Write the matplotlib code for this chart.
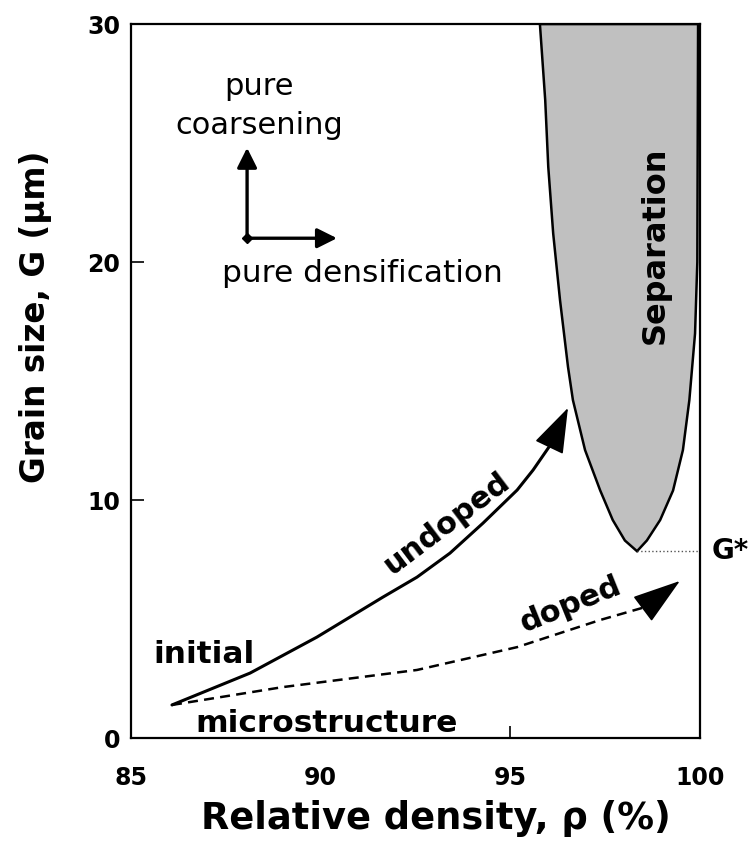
import matplotlib
matplotlib.use('Agg')
import matplotlib.pyplot as plt
from matplotlib.patches import FancyArrowPatch

# ----- data -----
# last pair of each path = base and tip of the arrowhead
undoped_rho = [86.08, 88.14, 89.9, 91.64, 92.54, 93.41, 94.28, 95.18, 95.6, 96.05, 96.52]
undoped_G = [1.39, 2.73, 4.24, 5.92, 6.76, 7.77, 9.03, 10.42, 11.26, 12.3, 13.87]

doped_rho = [86.08, 89.0, 92.54, 95.18, 97.37, 98.55, 99.47]
doped_G = [1.39, 2.14, 2.86, 3.82, 4.96, 5.5, 6.6]

# separation region outline: left branch top->bottom, right branch bottom->top
sep_rho = [95.78, 95.92, 96.0, 96.13, 96.31, 96.52, 96.65, 96.97, 97.37, 97.7, 98.02, 98.34,
           98.6, 98.95, 99.29, 99.55, 99.72, 99.87, 99.93, 99.95]
sep_G = [30, 26.8, 24.0, 21.2, 18.4, 15.6, 14.2, 12.1, 10.4, 9.16, 8.3, 7.85,
         8.3, 9.16, 10.4, 12.1, 14.2, 17.0, 20.0, 30]

g_star = 7.85
x_ticks = [85, 90, 95, 100]
y_ticks = [0, 10, 20, 30]

fig = plt.figure(figsize=(7.56, 8.55), dpi=100)
ax = fig.add_axes([0.1733, 0.1368, 0.7526, 0.8351])
ax.set_xlim(85, 100)
ax.set_ylim(0, 30)

# separation region
ax.fill(sep_rho, sep_G, facecolor='#c0c0c0', edgecolor='black', lw=1.8, zorder=2)
ax.text(98.82, 20.7, 'Separation', rotation=90, ha='center', va='center',
        fontsize=23, fontweight='bold', zorder=3)

# G* level
ax.plot([sep_rho[11], 100], [g_star, g_star], ls=':', color='#555555', lw=1.0, zorder=2)
ax.text(100.3, g_star, 'G*', ha='left', va='center', fontsize=20, fontweight='bold',
        clip_on=False)


def head(ax, rho, G, length):
    # solid arrowhead spanning the last segment of a path
    ax.add_patch(FancyArrowPatch((rho[-2], G[-2]), (rho[-1], G[-1]),
                                 arrowstyle=f'-|>,head_length={length},head_width=0.5',
                                 mutation_scale=20, lw=1.2, color='black', zorder=4,
                                 shrinkA=0, shrinkB=0))


# undoped path (solid)
ax.plot(undoped_rho[:-1], undoped_G[:-1], color='black', lw=2.2, zorder=4,
        solid_capstyle='round')
head(ax, undoped_rho, undoped_G, 1.45)

# doped path (dashed)
ax.plot(doped_rho[:-1], doped_G[:-1], color='black', lw=1.8, ls=(0, (4, 2.5)), zorder=4)
head(ax, doped_rho, doped_G, 1.55)

# path labels
ax.text(93.33, 9.03, 'undoped', rotation=37, ha='center', va='center',
        fontsize=22, fontweight='bold')
ax.text(96.6, 5.6, 'doped', rotation=22, ha='center', va='center',
        fontsize=22, fontweight='bold')
ax.text(85.58, 3.15, 'initial', ha='left', va='baseline', fontsize=22.5, fontweight='bold')
ax.text(86.69, 0.25, 'microstructure', ha='left', va='baseline', fontsize=22.5,
        fontweight='bold')

# schematic: pure coarsening / pure densification
corner = (88.06, 21.0)
arrow_kw = dict(arrowstyle='-|>,head_length=0.6,head_width=0.3',
                mutation_scale=20, lw=2.4, color='black', shrinkA=0, shrinkB=0)
ax.annotate('', xy=(88.06, 24.8), xytext=corner, arrowprops=arrow_kw)
ax.annotate('', xy=(90.43, 21.0), xytext=corner, arrowprops=arrow_kw)
ax.plot(*corner, marker='D', ms=5, color='black')
ax.text(88.37, 27.0, 'pure', ha='center', va='baseline', fontsize=22)
ax.text(88.37, 25.4, 'coarsening', ha='center', va='baseline', fontsize=22)
ax.text(87.4, 19.16, 'pure densification', ha='left', va='baseline', fontsize=22.5)

# axes styling
ax.set_xticks(x_ticks)
ax.set_yticks(y_ticks)
ax.tick_params(direction='in', length=9, width=1.2, labelsize=17)
ax.tick_params(axis='x', pad=20)
ax.tick_params(axis='y', pad=8)
for lbl in ax.get_xticklabels() + ax.get_yticklabels():
    lbl.set_fontweight('bold')
xt = ax.xaxis.get_major_ticks()
for i in (0, 1, 3):
    xt[i].tick1line.set_visible(False)
yt = ax.yaxis.get_major_ticks()
for i in (0, 3):
    yt[i].tick1line.set_visible(False)
for s in ax.spines.values():
    s.set_linewidth(1.6)

ax.set_xlabel('Relative density, ρ (%)', fontsize=26.5, fontweight='bold', va='center')
ax.xaxis.set_label_coords(0.535, -0.112)
ax.set_ylabel('Grain size, G (μm)', fontsize=23.5, fontweight='bold', va='center')
ax.yaxis.set_label_coords(-0.167, 0.59)

fig.savefig('out.png', dpi=100)
